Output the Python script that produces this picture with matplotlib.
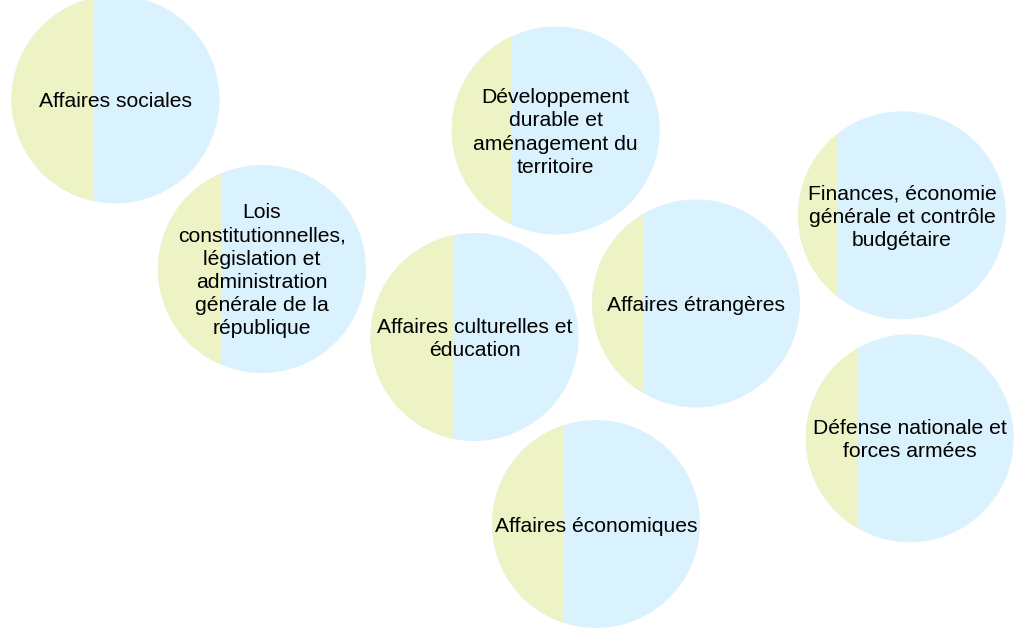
import matplotlib.pyplot as plt
from matplotlib.patches import Circle, Rectangle

# committees, one bubble each
labels = [
    "Affaires sociales",
    "Lois\nconstitutionnelles,\nlégislation et\nadministration\ngénérale de la\nrépublique",
    "Développement\ndurable et\naménagement du\nterritoire",
    "Affaires culturelles et\néducation",
    "Affaires étrangères",
    "Affaires économiques",
    "Finances, économie\ngénérale et contrôle\nbudgétaire",
    "Défense nationale et\nforces armées",
]
# share of the left (yellow) part in each bubble
share = [0.393, 0.308, 0.287, 0.40, 0.245, 0.348, 0.193, 0.252]
# bubble layout (pixels)
x_pos = [115.5, 262, 555.7, 474.5, 696, 596, 902, 909.7]
y_pos = [99.5, 269, 130.5, 337, 303.5, 524, 215.3, 438.3]
radius = 104

yellow = '#eef3c6'
blue = '#daf1fe'

fig = plt.figure(figsize=(10.2, 6.32), dpi=100)
ax = fig.add_axes([0, 0, 1, 1])
ax.set_xlim(0, 1020)
ax.set_ylim(632, 0)
ax.set_aspect('equal')
ax.axis('off')

for lab, s, x, y in zip(labels, share, x_pos, y_pos):
    circ = Circle((x, y), radius, facecolor=blue, edgecolor='none')
    ax.add_patch(circ)
    rect = Rectangle((x - radius, y - radius), s * 2 * radius, 2 * radius,
                     facecolor=yellow, edgecolor='none')
    ax.add_patch(rect)
    rect.set_clip_path(circ)
    ax.text(x, y + 2, lab, ha='center', va='center', fontsize=15.2,
            family='Liberation Sans', color='black', linespacing=1.28)

fig.savefig('out.png', dpi=100)
